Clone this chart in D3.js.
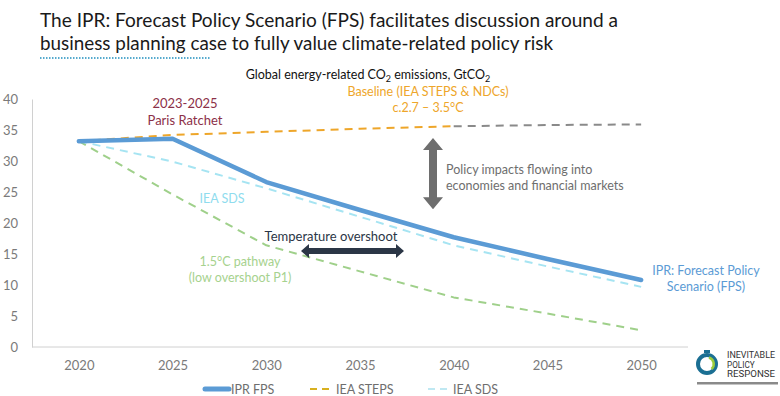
<!DOCTYPE html>
<html><head><meta charset="utf-8">
<script src="https://cdn.jsdelivr.net/npm/d3@7"></script>
<style>
html,body{margin:0;padding:0;background:#fff;}
svg{display:block;font-family:Lato, "Open Sans", sans-serif;}
</style></head>
<body><svg id="c" width="780" height="396"></svg>
<script>
const years = ["2020","2025","2030","2035","2040","2045","2050"];
const yTicks = [0,5,10,15,20,25,30,35,40];
const iprFps   = [33.2, 33.6, 26.6, 22.1, 17.7, 14.2, 10.8];
const ieaSteps = [33.2, 34.2, 34.7, 35.2, 35.6, null, null];
const baselineExt = [null, null, null, null, 35.6, 35.8, 35.9];
const ieaSds   = [33.2, 29.9, 25.6, 21.0, 16.4, 13.0, 9.7];
const p15      = [33.2, 24.6, 16.4, 12.2, 8.0, 5.4, 2.7];
const legendLabels = ["IPR FPS","IEA STEPS","IEA SDS"];

const svg = d3.select("#c");
const x = d3.scalePoint().domain(years).range([32,688]).padding(0.5);
const y = d3.scaleLinear().domain([0,40]).range([347,99]);

// title
const title = svg.append("g").attr("fill","#1a1a1a").style("font-size","18.5px");
title.append("text").attr("x",40).attr("y",27).attr("textLength",578).attr("lengthAdjust","spacingAndGlyphs")
  .text("The IPR: Forecast Policy Scenario (FPS) facilitates discussion around a");
title.append("text").attr("x",40).attr("y",49.5).attr("textLength",513).attr("lengthAdjust","spacingAndGlyphs")
  .text("business planning case to fully value climate-related policy risk");
svg.append("line").attr("x1",40).attr("x2",210).attr("y1",58).attr("y2",58)
  .attr("stroke","#1f8fbf").attr("stroke-width",1.5).attr("stroke-dasharray","1.5,1.5");

// subtitle
const sub = svg.append("text").attr("x",368).attr("y",79).attr("text-anchor","middle")
  .attr("fill","#111").style("font-size","12.5px");
sub.append("tspan").text("Global energy-related CO");
sub.append("tspan").attr("dy",3).style("font-size","9px").text("2");
sub.append("tspan").attr("dy",-3).text(" emissions, GtCO");
sub.append("tspan").attr("dy",3).style("font-size","9px").text("2");

// axes
const yAxis = svg.append("g").attr("transform","translate(32,0)")
  .call(d3.axisLeft(y).tickValues(yTicks).tickSize(0).tickPadding(14).tickSizeOuter(0));
yAxis.select(".domain").attr("stroke","#d0d0d0");
yAxis.selectAll("text").attr("fill","#7a7a7a").style("font-size","13px").style("font-family","Lato, sans-serif");
const xAxis = svg.append("g").attr("transform","translate(0,347)")
  .call(d3.axisBottom(x).tickSize(0).tickPadding(14).tickSizeOuter(0));
xAxis.select(".domain").attr("stroke","#d0d0d0").attr("d","M32,0H688");
xAxis.selectAll("text").attr("fill","#7a7a7a").style("font-size","13px").style("font-family","Lato, sans-serif");

// lines
const line = d3.line().defined(d=>d[1]!=null).x(d=>x(d[0])).y(d=>y(d[1]));
const zipY = arr => years.map((yr,i)=>[yr,arr[i]]);
function draw(arr,color,width,dash){
  svg.append("path").datum(zipY(arr)).attr("d",line).attr("fill","none")
    .attr("stroke",color).attr("stroke-width",width).attr("stroke-dasharray",dash||null)
    .attr("stroke-linejoin","round").attr("stroke-linecap", dash?"butt":"round");
}
draw(p15,"#9fd08a",2,"8,6");
draw(ieaSds,"#a6e4f2",2,"8,6");
draw(baselineExt,"#8a8a8a",2,"8,6");
draw(ieaSteps,"#eea62a",2,"8,6");
draw(iprFps,"#5b9bd5",4.5,null);

// annotations
function txt(xp,yp,lines,color,size,anchor){
  const t = svg.append("text").attr("fill",color).style("font-size",size+"px").attr("text-anchor",anchor||"middle");
  lines.forEach((l,i)=>t.append("tspan").attr("x",xp).attr("y",yp+i*(size+3.5)).text(l));
}
txt(185,108,["2023-2025","Paris Ratchet"],"#8c3048",13);
txt(428,96,["Baseline (IEA STEPS & NDCs)","c.2.7 – 3.5°C"],"#eea62a",12.5);
txt(446,174,["Policy impacts flowing into","economies and financial markets"],"#6e6e6e",12.5,"start");
txt(222,203,["IEA SDS"],"#8fdcee",12.5);
txt(331,241,["Temperature overshoot"],"#2b3646",13);
txt(240,266,["1.5°C pathway","(low overshoot P1)"],"#a6d28e",12.5);
txt(706,275,["IPR: Forecast Policy","Scenario (FPS)"],"#5b9bd5",12.5);

// double arrows
function dblArrow(x1,y1,x2,y2,color,w,head,hw){
  const dx=x2-x1, dy=y2-y1, L=Math.hypot(dx,dy), ux=dx/L, uy=dy/L, px=-uy, py=ux;
  const pts = [
    [x1,y1],
    [x1+ux*head+px*hw, y1+uy*head+py*hw],
    [x1+ux*head+px*w/2, y1+uy*head+py*w/2],
    [x2-ux*head+px*w/2, y2-uy*head+py*w/2],
    [x2-ux*head+px*hw, y2-uy*head+py*hw],
    [x2,y2],
    [x2-ux*head-px*hw, y2-uy*head-py*hw],
    [x2-ux*head-px*w/2, y2-uy*head-py*w/2],
    [x1+ux*head-px*w/2, y1+uy*head-py*w/2],
    [x1+ux*head-px*hw, y1+uy*head-py*hw]
  ];
  svg.append("polygon").attr("points",pts.map(p=>p.join(",")).join(" ")).attr("fill",color);
}
dblArrow(433,y(33.7),433,y(22.2),"#6e6e6e",8,12,10);
dblArrow(301,251,404,251,"#2b3646",6,8,7);

// legend
const leg = svg.append("g");
const legItems = [
  {label:legendLabels[0], color:"#5b9bd5", w:5, dash:null, x0:205, x1:229, tx:231},
  {label:legendLabels[1], color:"#d8b020", w:2, dash:"7,5", x0:310, x1:331, tx:336},
  {label:legendLabels[2], color:"#bfe8f2", w:2, dash:"7,5", x0:428, x1:448, tx:453}
];
legItems.forEach(d=>{
  leg.append("line").attr("x1",d.x0).attr("x2",d.x1).attr("y1",389).attr("y2",389)
    .attr("stroke",d.color).attr("stroke-width",d.w).attr("stroke-dasharray",d.dash)
    .attr("stroke-linecap",d.dash?"butt":"round");
  leg.append("text").attr("x",d.tx).attr("y",393.5).attr("fill","#6e6e6e").style("font-size","12.5px").text(d.label);
});

// logo
const logo = svg.append("g");
logo.append("circle").attr("cx",707).attr("cy",364).attr("r",9).attr("fill","none").attr("stroke","#1b6f93").attr("stroke-width",4);
logo.append("path").attr("d",d3.arc()({innerRadius:5.5,outerRadius:8,startAngle:0.3,endAngle:2.4})).attr("transform","translate(707,364)").attr("fill","#9ccc3c");
logo.append("rect").attr("x",704).attr("y",350).attr("width",6).attr("height",3).attr("fill","#1b6f93");
["INEVITABLE","POLICY","RESPONSE"].forEach((t,i)=>logo.append("text").attr("x",727).attr("y",358+i*9.5)
  .attr("fill","#333").style("font-size","8.2px").attr("textLength", i===1?null:48).attr("lengthAdjust","spacingAndGlyphs")
  .style("font-family","Roboto, sans-serif").text(t));
logo.append("rect").attr("x",697).attr("y",382).attr("width",81).attr("height",2.5).attr("fill","#8a8a8a");
</script></body></html>
